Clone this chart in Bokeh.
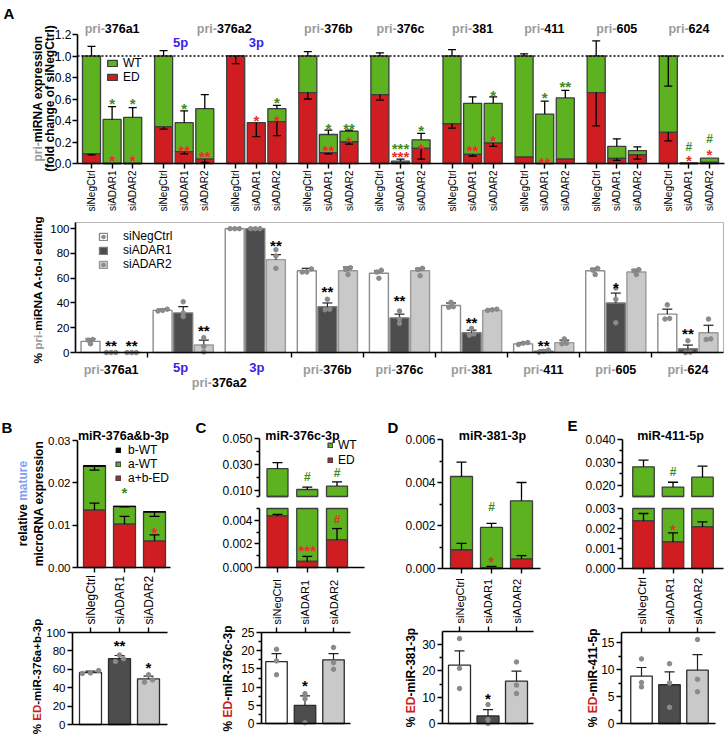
import math
from bokeh.plotting import figure
from bokeh.models import (Range1d, FixedTicker, NumeralTickFormatter, Label, Legend,
                          LegendItem, ColumnDataSource, LinearAxis, BoxAnnotation)
from bokeh.layouts import column, row
from bokeh.core.properties import value
from bokeh.embed import file_html
from bokeh.resources import INLINE

# ============================ DATA ============================
CONDITIONS = ["siNegCtrl", "siADAR1", "siADAR2"]
PRI_NAMES = ["376a1", "376a2", "376a2", "376b", "376c", "381", "411", "605", "624"]
PRI_ARMS = [None, "5p", "3p", None, None, None, None, None, None]

# Panel A top: pri-miRNA expression (fold change of siNegCtrl), 9 groups x 3 conditions
A_YTICKS = [0.0, 0.2, 0.4, 0.6, 0.8, 1.0, 1.2]
A_REF_LEVEL = 1.0
A_TOTAL = [1.00, 0.41, 0.43, 1.00, 0.38, 0.51, 1.00, 0.38, 0.51,
           1.00, 0.27, 0.30, 1.00, 0.022, 0.22, 1.00, 0.56, 0.56,
           1.00, 0.46, 0.61, 1.00, 0.16, 0.12, 1.00, 0.006, 0.05]
A_TOTAL_ERR = [1.09, 0.53, 0.52, 1.05, 0.49, 0.64, None, None, 0.54,
               1.04, 0.31, 0.31, 1.03, 0.04, 0.28, 1.06, 0.62, 0.62,
               1.02, 0.58, 0.68, 1.14, 0.23, 0.155, 0.72, None, None]
A_ED = [0.09, 0.0, 0.0, 0.34, 0.11, 0.04, 1.00, 0.38, 0.39,
        0.66, 0.10, 0.20, 0.64, 0.005, 0.14, 0.37, 0.084, 0.19,
        0.06, 0.0, 0.04, 0.66, 0.047, 0.08, 0.29, 0.0, 0.01]
A_ED_ERR = [0.08, None, None, 0.32, 0.09, 0.01, 0.93, 0.25, 0.26,
            0.60, 0.09, 0.18, 0.59, None, 0.04, 0.33, 0.07, 0.16,
            None, None, None, 0.35, 0.03, 0.04, 0.21, None, None]
A_SIG_BAR = [1, 1, 2, 2, 4, 4, 5, 7, 8, 8, 10, 10, 11, 11, 13, 13, 14, 14,
             16, 17, 17, 19, 19, 20, 25, 25, 26, 26]
A_SIG_TEXT = ["*", "*", "*", "*", "*", "**", "**", "*", "*", "*", "*", "**", "**", "*",
              "***", "***", "*", "*", "**", "*", "*", "*", "**", "**", "#", "*", "#", "*"]
A_SIG_Y = [0.586, 0.059, 0.586, 0.059, 0.54, 0.152, 0.09, 0.43, 0.60, 0.425, 0.353, 0.152,
           0.353, 0.23, 0.167, 0.09, 0.338, 0.167, 0.152, 0.663, 0.245, 0.642, 0.043, 0.747,
           0.152, 0.053, 0.23, 0.115]
A_SIG_KIND = ["wt", "ed", "wt", "ed", "wt", "ed", "ed", "ed", "wt", "ed", "wt", "ed", "wt", "ed",
              "wt", "ed", "wt", "ed", "ed", "wt", "ed", "wt", "ed", "wt", "wt", "ed", "wt", "ed"]

# Panel A bottom: % pri-miRNA A-to-I editing
EDIT_YTICKS = [0, 20, 40, 60, 80, 100]
EDIT_YMAX = 105
EDIT_MEAN = [
    [9, 34, 100, 66, 64, 38, 7, 66, 31],      # siNegCtrl
    [0, 32, 100, 37, 28, 16, 1, 40, 3],       # siADAR1
    [0, 6, 75, 66, 66, 34, 8, 65, 16],        # siADAR2
]
EDIT_ERR = [
    [11, 35, 100, 68, 66, 40, 8, 68, 35],
    [0, 37, 100, 40, 31, 18, 2, 48, 6],
    [0, 10, 79, 69, 68, 35, 10, 67, 22],
]
EDIT_DOTS = [
    [[10.5, 10, 7], [35, 34, 33.5], [100, 100, 100], [67.5, 65, 65], [66.5, 65, 60],
     [40.5, 37, 36.5], [8, 7.5, 6.5], [68, 66.5, 63], [38.5, 27.5, 27]],
    [[0, 0, 0], [41, 32, 29], [100, 100, 100], [43, 35, 34.5], [33.5, 27, 23.5],
     [19.5, 15, 14], [2, 1, 0.3], [52, 43, 24], [9.5, 0.3, 0]],
    [[0, 0, 0], [12, 5, 0.5], [83, 78, 68], [68.5, 67, 63], [68, 67, 62],
     [35, 34.5, 34], [11, 7.5, 7], [67, 66, 63], [27, 11, 10.5]],
]
EDIT_SIG_BAR = [1, 2, 5, 8, 10, 13, 16, 19, 22, 25]
EDIT_SIG_TEXT = ["**", "**", "**", "**", "**", "**", "**", "**", "*", "**"]
EDIT_SIG_Y = [8.3, 8.3, 20.4, 89, 52, 44.6, 27, 8.3, 55, 17.7]

# Panel B: miR-376a&b-3p
B_YTICKS = [0.00, 0.01, 0.02, 0.03]
B_ED = [0.0136, 0.0103, 0.0063]
B_AWT = [0.0103, 0.0041, 0.0068]
B_BWT = [0.0002, 0.0001, 0.0001]
B_TOTAL_ERR = [0.0230, 0.0143, 0.0121]
B_ED_ERR = [0.0152, 0.0121, 0.0077]
B_SIG = [(1, "*", 0.0185, "wt"), (2, "*", 0.0091, "ed")]
B_PCT_TICKS = [0, 20, 40, 60, 80, 100]
B_PCT = [56.5, 71.5, 49.5]
B_PCT_ERR = [58, 75, 52.5]
B_PCT_DOTS = [[58.6, 56, 55.5], [75.5, 71.5, 68.5], [54, 48.5, 46]]
B_PCT_SIG = [(1, "**", 89.5), (2, "*", 65)]

# Panel C: miR-376c-3p (broken axis)
C_UP_TICKS = [0.010, 0.030, 0.050]
C_UP_MINOR = [0.020, 0.040]
C_LO_TICKS = [0.000, 0.002, 0.004]
C_LO_MINOR = [0.001, 0.003]
C_BREAK = (0.0050, 0.0054)
C_TOTAL = [0.0268, 0.0108, 0.0134]
C_TOTAL_ERR = [0.0315, 0.0126, 0.0166]
C_ED = [0.00437, 0.00051, 0.00234]
C_ED_ERR = [0.0045, 0.00094, 0.0033]
C_SIG = [(1, "#", 0.0203, "wt"), (2, "#", 0.0236, "wt"), (1, "***", 0.0017, "ed"), (2, "#", 0.0040, "ed")]
C_PCT_TICKS = [0, 5, 10, 15, 20, 25]
C_PCT_MINOR = [2.5, 7.5, 12.5, 17.5, 22.5]
C_PCT = [17.0, 5.0, 17.5]
C_PCT_ERR = [19.2, 7.6, 19.2]
C_PCT_DOTS = [[20.4, 17.2, 13.4], [8.2, 6.8, 0.2], [20.9, 16.7, 14.9]]
C_PCT_SIG = [(1, "*", 11.3)]

# Panel D: miR-381-3p
D_TICKS = [0.000, 0.002, 0.004, 0.006]
D_MINOR = [0.001, 0.003, 0.005]
D_TOTAL = [0.00428, 0.00191, 0.00315]
D_TOTAL_ERR = [0.00495, 0.0021, 0.0040]
D_ED = [0.00086, 0.00003, 0.00044]
D_ED_ERR = [0.00117, 0.0001, 0.0006]
D_SIG = [(1, "#", 0.00285, "wt"), (1, "*", 0.00045, "ed")]
D_PCT_TICKS = [0, 10, 20, 30]
D_PCT_MINOR = [5, 15, 25]
D_PCT_MAX = 35
D_PCT = [22.2, 2.9, 16.1]
D_PCT_ERR = [27.6, 5.3, 19.9]
D_PCT_DOTS = [[32.3, 21.0, 13.3], [7.2, 1.5, 0.0], [23.4, 14.6, 11.4]]
D_PCT_SIG = [(1, "*", 10.8)]

# Panel E: miR-411-5p (broken axis)
E_UP_TICKS = [0.020, 0.030, 0.040]
E_UP_MINOR = [0.025, 0.035]
E_LO_TICKS = [0.000, 0.001, 0.002, 0.003]
E_LO_MINOR = [0.0005, 0.0015, 0.0025]
E_BREAK = (0.003, 0.0152)
E_TOTAL = [0.0281, 0.0193, 0.0236]
E_TOTAL_ERR = [0.0310, 0.0214, 0.0284]
E_ED = [0.00238, 0.00133, 0.00208]
E_ED_ERR = [0.00275, 0.00178, 0.00233]
E_SIG = [(1, "#", 0.0258, "wt"), (1, "*", 0.0021, "ed")]
E_PCT_TICKS = [0, 5, 10, 15]
E_PCT_MINOR = [2.5, 7.5, 12.5]
E_PCT_MAX = 16.9
E_PCT = [8.8, 7.2, 9.9]
E_PCT_ERR = [10.4, 9.6, 12.8]
E_PCT_DOTS = [[12.0, 7.6, 6.8], [11.1, 7.5, 3.0], [15.6, 8.2, 5.9]]
E_PCT_SIG = []

# ============================ STYLE ============================
FONT = "Liberation Sans"
S = 1.0
OX, OY = 0.0, 0.0
GREEN = "#5cb21f"
RED = "#cf1d21"
SIGC = {"wt": "#3f8c1a", "ed": "#e3302e"}
GRAYPRI = "#9b9b9b"
BLUE = "#3a22e6"
MATURE = "#7f9ff5"
BAR_LINE = "#3d3d3d"
DOT = "#8a8a8a"
EDIT_FILL = ["white", "#4d4d4d", "#c9c9c9"]
EDIT_LINE_A = ["#8c8c8c", "#7a7a7a", "#9a9a9a"]
PCT_LINE = "#2b2b2b"
SPLIT = 575  # boundary between upper and lower charts in panels B-E


def P(v):
    return int(round((v - OX) * S))


def Q(v):
    return int(round((v - OY) * S))


def fpx(sz):
    return f"{sz * S:.1f}px"


REG = {' ': 278, '%': 889, '&': 667, '(': 333, ')': 333, '*': 389, '+': 584, '-': 333,
       '.': 278, '#': 556, 'A': 667, 'C': 722, 'D': 722, 'E': 667, 'I': 278, 'N': 722,
       'R': 722, 'T': 611, 'W': 944, 'a': 556, 'b': 556, 'c': 500, 'd': 556, 'e': 556,
       'f': 278, 'g': 556, 'h': 556, 'i': 222, 'l': 222, 'm': 833, 'n': 556, 'o': 556,
       'p': 556, 'r': 333, 's': 500, 't': 278, 'u': 556, 'v': 500, 'x': 500}
BOLD = {' ': 278, '%': 889, '&': 722, '(': 333, ')': 333, '*': 389, '+': 584, '-': 333,
        '.': 278, '#': 556, 'A': 722, 'C': 722, 'D': 722, 'E': 667, 'I': 278, 'N': 722,
        'R': 722, 'T': 611, 'W': 944, 'a': 556, 'b': 611, 'c': 556, 'd': 611, 'e': 556,
        'f': 333, 'g': 611, 'h': 611, 'i': 278, 'l': 278, 'm': 889, 'n': 611, 'o': 611,
        'p': 611, 'r': 389, 's': 556, 't': 333, 'u': 611, 'v': 556, 'x': 556}


def tw(s, size, bold=True):
    t = BOLD if bold else REG
    return sum(t.get(c, 556) for c in s) / 1000.0 * size * S


def style_axis(ax, size=12):
    ax.axis_line_color = "black"
    ax.axis_line_width = 1.6
    ax.major_tick_line_color = "black"
    ax.major_tick_line_width = 1.4
    ax.minor_tick_line_color = "black"
    ax.minor_tick_line_width = 1.3
    ax.major_tick_in = 0
    ax.major_tick_out = 5
    ax.minor_tick_in = 0
    ax.minor_tick_out = 3
    ax.major_label_text_font = FONT
    ax.major_label_text_font_size = fpx(size)
    ax.major_label_text_color = "black"
    ax.major_label_standoff = 2


class Pan:
    """A figure whose frame is its whole canvas; the chart area is given in reference px
    and the axes are drawn at fixed locations, bounded to the chart area."""

    def __init__(self, canvas, area, xlim, ylim):
        cl, ct, cr, cb = canvas
        fl, ft, fr, fb = area
        self.canvas = canvas
        self.xlim, self.ylim = xlim, ylim
        self.ppx = (P(fr) - P(fl)) / (xlim[1] - xlim[0])
        self.ppy = (Q(fb) - Q(ft)) / (ylim[1] - ylim[0])
        self.x0 = xlim[0] - (P(fl) - P(cl)) / self.ppx
        xe = xlim[1] + (P(cr) - P(fr)) / self.ppx
        self.y0 = ylim[0] - (Q(cb) - Q(fb)) / self.ppy
        ye = ylim[1] + (Q(ft) - Q(ct)) / self.ppy
        self.p = figure(width=P(cr) - P(cl), height=Q(cb) - Q(ct), title=None,
                        x_range=Range1d(self.x0, xe), y_range=Range1d(self.y0, ye),
                        output_backend="svg", toolbar_location=None, min_border=0)
        p = self.p
        p.outline_line_color = None
        p.xgrid.visible = False
        p.ygrid.visible = False
        p.background_fill_color = "white"
        p.border_fill_color = "white"
        for ax in p.axis:
            style_axis(ax)
        p.left[0].fixed_location = xlim[0]
        p.left[0].bounds = (ylim[0], ylim[1])
        p.below[0].fixed_location = ylim[0]
        p.below[0].bounds = (xlim[0], xlim[1])

    def sx(self, xr):
        return P(xr) - P(self.canvas[0])

    def sy(self, yr):
        return Q(self.canvas[3]) - Q(yr)

    def dx(self, sx):
        return self.x0 + sx / self.ppx

    def dy(self, sy):
        return self.y0 + sy / self.ppy


def xlim_from(c0, sp, fl, fr):
    return (-(c0 - fl) / sp, (fr - c0) / sp)


def text_at(pn, txt, xr, yr, size, color="black", bold=True, align="left",
            baseline="alphabetic", angle=0.0):
    pn.p.add_layout(Label(x=pn.sx(xr), y=pn.sy(yr), x_units="screen", y_units="screen",
                          text=txt, text_font=FONT, text_font_size=fpx(size),
                          text_font_style="bold" if bold else "normal", text_color=color,
                          text_align=align, text_baseline=baseline, angle=angle))


def hrich_data(pn, parts, xd, yr, size, off_ref=0.0):
    W = sum(tw(t, size) for t, _ in parts)
    cum = 0.0
    for t, c in parts:
        pn.p.add_layout(Label(x=xd, x_units="data", x_offset=off_ref * S - W / 2 + cum,
                              y=pn.sy(yr), y_units="screen", text=t, text_font=FONT,
                              text_font_size=fpx(size), text_font_style="bold",
                              text_color=c, text_align="left", text_baseline="alphabetic"))
        cum += tw(t, size)


def vrich(pn, parts, xr, ycr, size):
    """Vertical (bottom-to-top) axis title made of coloured runs, centred at (xr, ycr)."""
    W = sum(tw(t, size) for t, _ in parts)
    start = pn.sy(ycr) - W / 2
    cum = 0.0
    X, Y, T, C = [], [], [], []
    for t, c in parts:
        X.append(pn.dx(pn.sx(xr)))
        Y.append(pn.dy(start + cum))
        T.append(t)
        C.append(c)
        cum += tw(t, size)
    pn.p.text(x=X, y=Y, text=T, text_color=C, angle=math.pi / 2, text_align="left",
              text_baseline="middle", text_font=value(FONT), text_font_size=value(fpx(size)),
              text_font_style="bold")


def rot_ticklabels(p, xs, y, texts, size, align, yoff):
    """Vertical category labels next to an axis (drawn as text, reading bottom-to-top)."""
    p.text(x=xs, y=[y] * len(xs), text=texts, angle=math.pi / 2, text_align=align,
           text_baseline="middle", y_offset=yoff, text_font=value(FONT),
           text_font_size=value(fpx(size)), text_color="black")


def add_legend(pn, items, left_ref, top_ref, gw, gh, pitch, size, standoff_ref):
    n = len(items)
    rh = pitch * S
    leg = Legend(items=[LegendItem(label=t, renderers=r) for t, r in items],
                 location=(pn.sx(left_ref), pn.sy(top_ref) - n * rh), orientation="vertical",
                 padding=0, margin=0, spacing=0, border_line_color=None,
                 background_fill_alpha=0.0,
                 glyph_width=int(round(gw * S)), glyph_height=int(round(gh * S)),
                 label_height=int(round(rh)), label_width=5,
                 label_standoff=int(round(standoff_ref * S)),
                 label_text_font=FONT, label_text_font_size=fpx(size),
                 label_text_color="black", label_text_baseline="middle")
    pn.p.add_layout(leg)


def errbars(p, xs, starts, ends, cap, color="black", lw=1.3, lo=-1e9, hi=1e9):
    X, Y0, Y1, CX, CY = [], [], [], [], []
    for x, a, b in zip(xs, starts, ends):
        if b is None or b == a:
            continue
        a2, b2 = min(max(a, lo), hi), min(max(b, lo), hi)
        if a2 != b2:
            X.append(x)
            Y0.append(a2)
            Y1.append(b2)
        if lo <= b <= hi:
            CX.append(x)
            CY.append(b)
    if X:
        p.segment(x0=X, y0=Y0, x1=X, y1=Y1, line_color=color, line_width=lw)
    if CX:
        p.scatter(x=CX, y=CY, marker="dash", size=cap * S, line_color=color, line_width=lw)


def sig_marks(p, xs, ys, texts, colors, star_size, hash_size):
    sizes, yo = [], []
    for t in texts:
        if "#" in t:
            sizes.append(fpx(hash_size))
            yo.append(0.0)
        else:
            sizes.append(fpx(star_size))
            yo.append(0.21 * star_size * S)
    src = ColumnDataSource(dict(x=xs, y=ys, txt=texts, clr=colors, fsz=sizes, yo=yo))
    p.text(x="x", y="y", text="txt", source=src, text_color="clr", text_font_size="fsz",
           text_font=value(FONT), text_font_style="bold", text_align="center",
           text_baseline="middle", y_offset="yo")


def swarm(vals, thr, d):
    idx = sorted(range(len(vals)), key=lambda i: vals[i])
    offs = [0.0] * len(vals)
    a, b, c = idx
    ab = abs(vals[a] - vals[b]) < thr
    bc = abs(vals[b] - vals[c]) < thr
    if ab and bc:
        offs[a], offs[b], offs[c] = -d, 0.0, d
    elif ab:
        offs[a], offs[b] = -d / 2, d / 2
    elif bc:
        offs[b], offs[c] = -d / 2, d / 2
    return offs


def dots(p, xs, dot_lists, thr, d, size=4.5):
    X, Y = [], []
    for x, vals in zip(xs, dot_lists):
        for o, v in zip(swarm(vals, thr, d), vals):
            X.append(x + o)
            Y.append(v)
    return p.scatter(x=X, y=Y, marker="circle", size=size * S, fill_color=DOT, line_color=DOT)


# ============================ PANEL A (top) ============================
A_UNIT = 10.3
A_X = [7 * g + 2 * c for g in range(len(PRI_NAMES)) for c in range(3)]
a1 = Pan((0, 0, 727, 213), (77, 34, 724, 163),
         ((-(91 - 77)) / A_UNIT, (724 - 91) / A_UNIT), (A_YTICKS[0], A_YTICKS[-1]))
p = a1.p
srcA = ColumnDataSource(dict(x=A_X, total=A_TOTAL, ed=A_ED))
r_wt = p.vbar(x="x", width=1.75, bottom="ed", top="total", source=srcA, fill_color=GREEN,
              line_color=BAR_LINE, line_width=1.3)
r_ed = p.vbar(x="x", width=1.75, bottom=0, top="ed", source=srcA, fill_color=RED,
              line_color=BAR_LINE, line_width=1.3)
p.segment(x0=[a1.xlim[0]], y0=[A_REF_LEVEL], x1=[a1.xlim[1]], y1=[A_REF_LEVEL],
          line_color="black", line_dash="2 2", line_width=1.5)
errbars(p, A_X, A_TOTAL, A_TOTAL_ERR, 8)
errbars(p, A_X, A_ED, A_ED_ERR, 8)
sig_marks(p, [A_X[i] for i in A_SIG_BAR], A_SIG_Y, A_SIG_TEXT,
          [SIGC[k] for k in A_SIG_KIND], 15, 12)
ya = p.left[0]
ya.ticker = FixedTicker(ticks=A_YTICKS)
ya.formatter = NumeralTickFormatter(format="0.0")
ya.major_label_standoff = 1
xa = p.below[0]
xa.ticker = FixedTicker(ticks=[], minor_ticks=A_X)
xa.minor_tick_out = 5
xa.minor_tick_line_width = 1.4
rot_ticklabels(p, A_X, A_YTICKS[0], [CONDITIONS[i % 3] for i in range(len(A_X))], 10, "right", 7)
add_legend(a1, [("WT", [r_wt]), ("ED", [r_ed])], 106, 60, 12, 8, 12, 12, 5)
text_at(a1, "A", 3, 13, 15)
vrich(a1, [("pri-", GRAYPRI), ("miRNA expression", "black")], 37, 98, 12)
vrich(a1, [("(fold change of siNegCtrl)", "black")], 49, 98, 12)

# ============================ PANEL A (bottom) ============================
a2 = Pan((0, 213, 727, 392), (75, 222, 723, 352),
         ((-(90 - 75)) / A_UNIT, (723 - 90) / A_UNIT), (0, EDIT_YMAX))
p = a2.p
p.add_layout(BoxAnnotation(left=a2.xlim[0], right=a2.xlim[1], bottom=0, top=EDIT_YMAX,
                           fill_alpha=0.0, line_color="#1a1a1a", line_width=1.2))
edit_bars, edit_dots = [], []
for c in range(3):
    xs = [7 * g + 2 * c for g in range(len(PRI_NAMES))]
    rb = p.vbar(x=xs, width=1.84, bottom=0, top=EDIT_MEAN[c], fill_color=EDIT_FILL[c],
                line_color=EDIT_LINE_A[c], line_width=1.4)
    edit_bars.append(rb)
    errbars(p, xs, EDIT_MEAN[c], [e if e > m else None for e, m in zip(EDIT_ERR[c], EDIT_MEAN[c])],
            10, color="#222222", lw=1.2)
    edit_dots.append(dots(p, xs, EDIT_DOTS[c], 3.0, 0.45))
sig_marks(p, [A_X[i] for i in EDIT_SIG_BAR], EDIT_SIG_Y, EDIT_SIG_TEXT,
          ["black"] * len(EDIT_SIG_TEXT), 15, 12)
ya = p.left[0]
style_axis(ya, 11.5)
ya.ticker = FixedTicker(ticks=EDIT_YTICKS)
ya.major_label_standoff = 1
xa = p.below[0]
bounds = [7 * g + 5.5 for g in range(len(PRI_NAMES) - 1) if PRI_NAMES[g] != PRI_NAMES[g + 1]]
xa.ticker = FixedTicker(ticks=[], minor_ticks=bounds)
xa.minor_tick_out = 5
xa.minor_tick_line_width = 1.4
add_legend(a2, [("siNegCtrl", [edit_bars[0], edit_dots[0]]), ("siADAR1", [edit_bars[1]]),
                ("siADAR2", [edit_bars[2], edit_dots[2]])], 98, 229, 10, 9, 14, 12, 15)
vrich(a2, [("% ", "black"), ("pri-", GRAYPRI), ("miRNA A-to-I editing", "black")], 37, 289, 11.8)

# group titles (top) and group labels (bottom)
ARM_OFF_A1 = {"5p": -3.5, "3p": 0.0}
ARM_OFF_A2 = {"5p": -2.5, "3p": 1.5}
for g, (name, arm) in enumerate(zip(PRI_NAMES, PRI_ARMS)):
    center = 7 * g + 2
    if arm is None:
        hrich_data(a1, [("pri-", GRAYPRI), (name, "black")], center, 28.5, 12.5)
        hrich_data(a2, [("pri-", GRAYPRI), (name, "black")], center, 369, 12.5)
    else:
        hrich_data(a1, [(arm, BLUE)], center, 41.5, 13, ARM_OFF_A1[arm])
        hrich_data(a2, [(arm, BLUE)], center, 367, 13, ARM_OFF_A2[arm])
multi = sorted(set(n for n, a in zip(PRI_NAMES, PRI_ARMS) if a is not None))
for name in multi:
    gs = [g for g, n in enumerate(PRI_NAMES) if n == name]
    mid = (7 * gs[0] + 2 + 7 * gs[-1] + 2) / 2
    hrich_data(a1, [("pri-", GRAYPRI), (name, "black")], mid, 28.5, 12.5, 4)
    hrich_data(a2, [("pri-", GRAYPRI), (name, "black")], mid, 381.5, 12.5)


# ============================ helpers for B-E ============================
def top_axes(pn, ticks, minor, fmt, size=12):
    p = pn.p
    ya = p.left[0]
    style_axis(ya, size)
    ya.ticker = FixedTicker(ticks=ticks, minor_ticks=minor)
    ya.formatter = NumeralTickFormatter(format=fmt)
    ya.major_label_standoff = 2
    xa = p.below[0]
    xa.ticker = FixedTicker(ticks=[], minor_ticks=[0, 1, 2])
    xa.minor_tick_out = 5
    xa.minor_tick_line_width = 1.4


def draw_two(pn, total, ed, terr, eerr, width, sig, lo, hi):
    p = pn.p
    xs = [0, 1, 2]
    wx, wb, wt, ex, eb, et = [], [], [], [], [], []
    for x, t, e in zip(xs, total, ed):
        b0, t0 = max(e, lo), min(t, hi)
        if t0 > b0:
            wx.append(x)
            wb.append(b0)
            wt.append(t0)
        b1, t1 = max(0.0, lo), min(e, hi)
        if t1 > b1:
            ex.append(x)
            eb.append(b1)
            et.append(t1)
    if not ex:
        # all ED parts lie below this axis segment: keep a flat stub on the break line
        ex, eb, et = [xs[0]], [lo], [lo]
    rw = p.vbar(x=wx, width=width, bottom=wb, top=wt, fill_color=GREEN,
                line_color=BAR_LINE, line_width=1.3)
    re_ = p.vbar(x=ex, width=width, bottom=eb, top=et, fill_color=RED,
                 line_color=BAR_LINE, line_width=1.3)
    errbars(p, xs, total, terr, 10, lo=lo, hi=hi)
    errbars(p, xs, ed, eerr, 10, lo=lo, hi=hi)
    ss = [s for s in sig if lo <= s[2] <= hi]
    if ss:
        sig_marks(p, [s[0] for s in ss], [s[2] for s in ss], [s[1] for s in ss],
                  [SIGC[s[3]] for s in ss], 15, 12)
    return rw, re_


def bottom_panel(canvas, area, c0, sp, w, ymax, ticks, minor, means, errs, dl, sig,
                 lab_size, tick_size=12):
    fl, ft, fr, fb = area
    pn = Pan(canvas, area, xlim_from(c0, sp, fl, fr), (0, ymax))
    p = pn.p
    xs = [0, 1, 2]
    wd = w / sp
    for c in range(3):
        p.vbar(x=[xs[c]], width=wd, bottom=0, top=[means[c]], fill_color=EDIT_FILL[c],
               line_color=PCT_LINE, line_width=1.3)
    errbars(p, xs, means, errs, 10, color="#222222", lw=1.2)
    dots(p, xs, dl, ymax * 0.04, 0.28)
    if sig:
        sig_marks(p, [s[0] for s in sig], [s[2] for s in sig], [s[1] for s in sig],
                  ["black"] * len(sig), 15, 12)
    ya = p.left[0]
    style_axis(ya, tick_size)
    ya.ticker = FixedTicker(ticks=ticks, minor_ticks=minor)
    ya.major_label_standoff = 2
    xb = p.below[0]
    xb.ticker = FixedTicker(ticks=[])
    top_ax = LinearAxis(ticker=FixedTicker(ticks=[], minor_ticks=xs),
                        fixed_location=ymax, bounds=pn.xlim)
    style_axis(top_ax, lab_size)
    top_ax.minor_tick_out = 5
    top_ax.minor_tick_line_width = 1.4
    p.add_layout(top_ax, "above")
    rot_ticklabels(p, xs, ymax, CONDITIONS, lab_size, "left", -8)
    return pn


# ============================ PANEL B ============================
b_top = Pan((0, 392, 192, SPLIT), (77, 440, 170, 567), xlim_from(94, 30, 77, 170),
            (B_YTICKS[0], B_YTICKS[-1]))
p = b_top.p
xsB = [0, 1, 2]
b1 = [B_ED[i] + B_AWT[i] for i in range(3)]
b2 = [b1[i] + B_BWT[i] for i in range(3)]
wB = 22 / 30
r_bed = p.vbar(x=xsB, width=wB, bottom=0, top=B_ED, fill_color=RED, line_color=BAR_LINE, line_width=1.3)
r_bawt = p.vbar(x=xsB, width=wB, bottom=B_ED, top=b1, fill_color=GREEN, line_color=BAR_LINE, line_width=1.3)
r_bbwt = p.vbar(x=xsB, width=wB, bottom=b1, top=b2, fill_color="black", line_color="black", line_width=1.0)
errbars(p, xsB, b2, B_TOTAL_ERR, 10)
errbars(p, xsB, B_ED, B_ED_ERR, 10)
sig_marks(p, [s[0] for s in B_SIG], [s[2] for s in B_SIG], [s[1] for s in B_SIG],
          [SIGC[s[3]] for s in B_SIG], 15, 12)
top_axes(b_top, B_YTICKS, [], "0.00", size=11.5)
add_legend(b_top, [("b-WT", [r_bbwt]), ("a-WT", [r_bawt]), ("a+b-ED", [r_bed])],
           115, 443, 6, 6, 14, 12, 7)
text_at(b_top, "B", 1, 427, 15)
text_at(b_top, "miR-376a&b-3p", 123, 435, 12.5, align="center")
vrich(b_top, [("relative ", "black"), ("mature", MATURE)], 22, 503, 12)
vrich(b_top, [("microRNA expression", "black")], 38, 503, 12)

b_bot = bottom_panel((0, SPLIT, 192, 737), (72, 632, 167, 724), 90, 29, 22, B_PCT_TICKS[-1],
                     B_PCT_TICKS, [], B_PCT, B_PCT_ERR, B_PCT_DOTS, B_PCT_SIG, 12, 11.5)
vrich(b_bot, [("% ", "black"), ("ED", RED), ("-miR-376a+b-3p", "black")], 36, 676.5, 11.5)

# ============================ PANEL C ============================
xC = xlim_from(277, 29.75, 259, 364)
c_up = Pan((192, 392, 385, 502), (259, 438, 364, 496), xC, (C_BREAK[1], C_UP_TICKS[-1]))
c_lo = Pan((192, 502, 385, SPLIT), (259, 508, 364, 567), xC, (0, C_BREAK[0]))
rcw, rce = draw_two(c_up, C_TOTAL, C_ED, C_TOTAL_ERR, C_ED_ERR, 21 / 29.75, C_SIG,
                    C_BREAK[1], C_UP_TICKS[-1])
draw_two(c_lo, C_TOTAL, C_ED, C_TOTAL_ERR, C_ED_ERR, 21 / 29.75, C_SIG, 0, C_BREAK[0])
top_axes(c_up, C_UP_TICKS, C_UP_MINOR + [C_BREAK[1]], "0.000")
c_up.p.below[0].visible = False
top_axes(c_lo, C_LO_TICKS, C_LO_MINOR + [C_BREAK[0]], "0.000")
add_legend(c_up, [("WT", [rcw]), ("ED", [rce])], 327, 437, 6, 6, 15, 12, 5)
text_at(c_up, "C", 195, 427, 15)
text_at(c_up, "miR-376c-3p", 302, 435, 12.5, align="center")
c_bot = bottom_panel((192, SPLIT, 385, 737), (261, 632, 350, 723), 276, 28.5, 21.5, C_PCT_TICKS[-1],
                     C_PCT_TICKS, C_PCT_MINOR, C_PCT, C_PCT_ERR, C_PCT_DOTS, C_PCT_SIG, 11)
vrich(c_bot, [("% ", "black"), ("ED", RED), ("-miR-376c-3p", "black")], 227, 678, 12)

# ============================ PANEL D ============================
d_top = Pan((385, 392, 562, SPLIT), (442, 439, 540, 568), xlim_from(461, 30, 442, 540),
            (D_TICKS[0], D_TICKS[-1]))
draw_two(d_top, D_TOTAL, D_ED, D_TOTAL_ERR, D_ED_ERR, 22 / 30, D_SIG, 0, D_TICKS[-1])
top_axes(d_top, D_TICKS, D_MINOR, "0.000")
text_at(d_top, "D", 387, 427, 15)
text_at(d_top, "miR-381-3p", 492, 435, 12.5, align="center")
d_bot = bottom_panel((385, SPLIT, 562, 737), (442, 631, 533, 723), 459, 28.5, 22, D_PCT_MAX,
                     D_PCT_TICKS, D_PCT_MINOR, D_PCT, D_PCT_ERR, D_PCT_DOTS, D_PCT_SIG, 11)
vrich(d_bot, [("% ", "black"), ("ED", RED), ("-miR-381-3p", "black")], 410, 677, 12)

# ============================ PANEL E ============================
xE = xlim_from(643, 29.5, 622, 723)
e_up = Pan((562, 392, 727, 502), (622, 439, 723, 496), xE, (E_BREAK[1], E_UP_TICKS[-1]))
e_lo = Pan((562, 502, 727, SPLIT), (622, 508, 723, 568), xE, (0, E_BREAK[0]))
draw_two(e_up, E_TOTAL, E_ED, E_TOTAL_ERR, E_ED_ERR, 21.5 / 29.5, E_SIG, E_BREAK[1], E_UP_TICKS[-1])
draw_two(e_lo, E_TOTAL, E_ED, E_TOTAL_ERR, E_ED_ERR, 21.5 / 29.5, E_SIG, 0, E_BREAK[0])
top_axes(e_up, E_UP_TICKS, E_UP_MINOR + [E_BREAK[1]], "0.000")
e_up.p.below[0].visible = False
top_axes(e_lo, E_LO_TICKS, E_LO_MINOR, "0.000")
text_at(e_up, "E", 567, 425, 15)
text_at(e_up, "miR-411-5p", 670, 435, 12.5, align="center")
e_bot = bottom_panel((562, SPLIT, 727, 737), (621, 632, 715, 723), 641, 28, 21.5, E_PCT_MAX,
                     E_PCT_TICKS, E_PCT_MINOR, E_PCT, E_PCT_ERR, E_PCT_DOTS, E_PCT_SIG, 11.5)
vrich(e_bot, [("% ", "black"), ("ED", RED), ("-miR-411-5p", "black")], 592, 677, 12)

# ============================ LAYOUT ============================
layout = column(
    a1.p, a2.p,
    row(column(b_top.p, b_bot.p, spacing=0),
        column(c_up.p, c_lo.p, c_bot.p, spacing=0),
        column(d_top.p, d_bot.p, spacing=0),
        column(e_up.p, e_lo.p, e_bot.p, spacing=0), spacing=0),
    spacing=0)

open("out.html", "w").write(file_html(layout, INLINE))
